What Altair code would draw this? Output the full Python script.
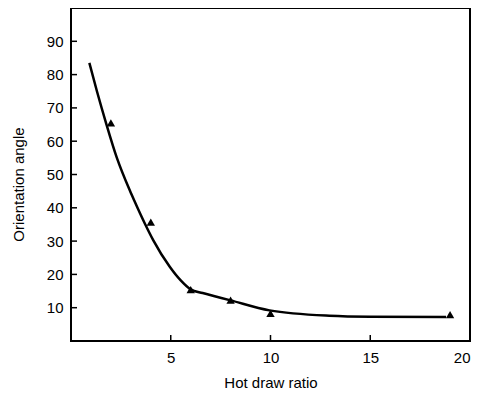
import altair as alt
import pandas as pd

# measured points (triangles)
pt_x = [2, 4, 6, 8, 10, 19]
pt_y = [65.5, 35.7, 15.4, 12.3, 8.3, 7.9]

# fitted curve
curve_x = [0.92, 1.3, 1.75, 2.3, 2.95, 3.17, 3.7, 4.12, 4.95, 5.5, 6.0, 6.6, 7.3, 8.0, 9.95, 12.95, 15.0, 18.8]
curve_y = [83.5, 75.0, 65.6, 55.0, 45.2, 42.2, 35.3, 30.3, 22.3, 18.2, 15.5, 14.4, 13.3, 12.2, 9.2, 7.6, 7.3, 7.2]

x_ticks = [5, 10, 15, 20]
y_ticks = [10, 20, 30, 40, 50, 60, 70, 80, 90]

pts = pd.DataFrame({"x": pt_x, "y": pt_y})
curve = pd.DataFrame({"x": curve_x, "y": curve_y})
xt = pd.DataFrame({"v": x_ticks})
yt = pd.DataFrame({"v": y_ticks})

FONT = "Liberation Sans"
W, H = 399, 333

xscale = alt.Scale(domain=[0, 20], nice=False, zero=False)
yscale = alt.Scale(domain=[0, 100], nice=False, zero=False)

xaxis = alt.Axis(values=x_ticks, ticks=False, domain=False, grid=False,
                 labelPadding=9, labelFontSize=15, labelFont=FONT, labelColor="black",
                 title="Hot draw ratio", titleFont=FONT, titleFontSize=15,
                 titleFontWeight="normal", titleColor="black", titlePadding=10)
yaxis = alt.Axis(values=y_ticks, ticks=False, domain=False, grid=False,
                 labelPadding=8, labelFontSize=15, labelFont=FONT, labelColor="black",
                 title="Orientation angle", titleFont=FONT, titleFontSize=15,
                 titleFontWeight="normal", titleColor="black", titlePadding=20,
                 titleY=176)

line = alt.Chart(curve).mark_line(color="black", strokeWidth=2.5, interpolate="monotone").encode(
    x=alt.X("x:Q", scale=xscale, axis=xaxis),
    y=alt.Y("y:Q", scale=yscale, axis=yaxis),
)

tri = alt.Chart(pts).mark_point(shape="triangle-up", filled=True, color="black",
                                 size=70, opacity=1).encode(
    x=alt.X("x:Q", scale=xscale),
    y=alt.Y("y:Q", scale=yscale),
)

xtick_marks = alt.Chart(xt).mark_rule(color="black", strokeWidth=1.5).encode(
    x=alt.X("v:Q", scale=xscale),
    y=alt.value(H),
    y2=alt.value(H - 6),
)
ytick_marks = alt.Chart(yt).mark_rule(color="black", strokeWidth=1.5).encode(
    y=alt.Y("v:Q", scale=yscale),
    x=alt.value(0),
    x2=alt.value(6),
)

chart = alt.layer(line, tri, xtick_marks, ytick_marks).properties(
    width=W, height=H,
    autosize=alt.AutoSizeParams(type="none"),
    padding={"left": 63, "top": 0, "right": 8, "bottom": 51},
    background="white",
).configure_view(stroke="black", strokeWidth=2)

chart.save("out.html", embed_options={"renderer": "svg", "actions": False})
